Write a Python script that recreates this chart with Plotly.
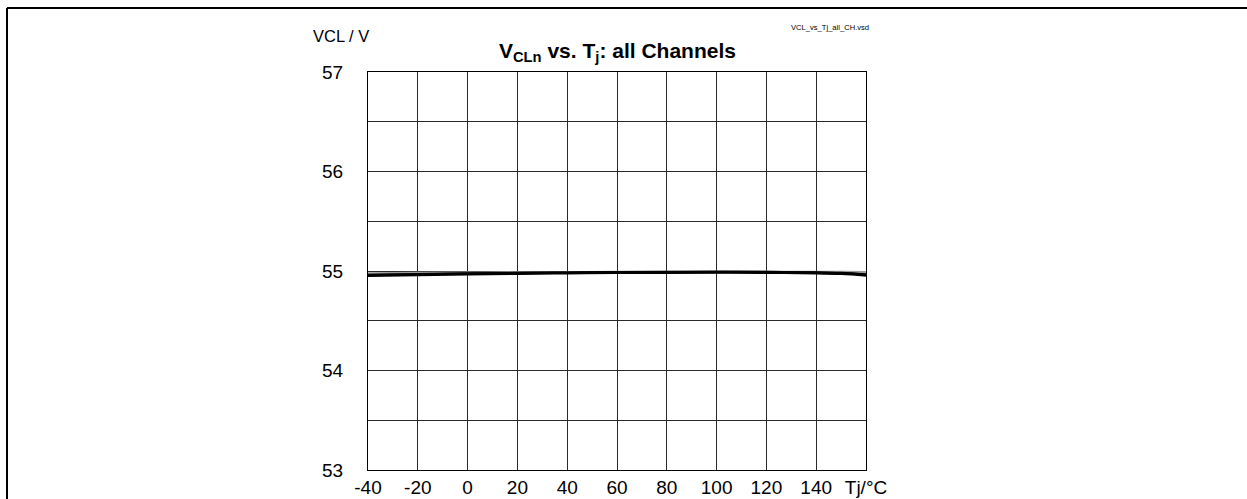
import plotly.graph_objects as go

# Junction temperature (°C)
tj = [-40, -20, 0, 20, 40, 60, 80, 100, 120, 140, 150, 160]

# Clamping voltage per channel (V)
vcl_ch0 = [54.955, 54.963, 54.970, 54.976, 54.980, 54.984, 54.986, 54.987, 54.986, 54.981, 54.974, 54.958]
vcl_ch1 = [54.960, 54.967, 54.974, 54.979, 54.983, 54.987, 54.989, 54.990, 54.989, 54.985, 54.979, 54.965]
vcl_ch2 = [54.978, 54.982, 54.985, 54.988, 54.990, 54.992, 54.993, 54.994, 54.994, 54.993, 54.992, 54.990]

x_ticks = [-40, -20, 0, 20, 40, 60, 80, 100, 120, 140, 160]
x_ticktext = ["-40", "-20", "0", "20", "40", "60", "80", "100", "120", "140", "Tj/°C"]
y_ticks = [53, 53.5, 54, 54.5, 55, 55.5, 56, 56.5, 57]
y_ticktext = ["53", "", "54", "", "55", "", "56", "", "57"]

FONT = "Liberation Sans, Arial, sans-serif"

fig = go.Figure()
fig.add_trace(go.Scatter(x=tj, y=vcl_ch2, mode="lines", line=dict(color="#9a9a9a", width=2, shape="spline"),
                         showlegend=False, hoverinfo="skip"))
fig.add_trace(go.Scatter(x=tj, y=vcl_ch0, mode="lines", line=dict(color="black", width=3, shape="spline"),
                         showlegend=False))
fig.add_trace(go.Scatter(x=tj, y=vcl_ch1, mode="lines", line=dict(color="black", width=2.5, shape="spline"),
                         showlegend=False))

L, R, T, B = 368, 866, 72, 470
W, H = 1247, 499


def px_x(p):
    return (p - L) / (R - L)


def px_y(p):
    return (B - p) / (B - T)


fig.update_layout(
    width=W, height=H,
    margin=dict(l=L, r=W - R, t=T, b=H - B, pad=0, autoexpand=False),
    paper_bgcolor="white", plot_bgcolor="white",
    font=dict(family=FONT, size=16, color="black"),
    xaxis=dict(range=[-40, 160], tickmode="array", tickvals=x_ticks, ticktext=x_ticktext,
               showgrid=True, gridcolor="#2a2a2a", gridwidth=1, zeroline=False,
               showline=True, linecolor="black", linewidth=1, mirror=True, automargin=False,
               ticks="", ticklabelstandoff=0, tickfont=dict(size=19)),
    yaxis=dict(range=[53, 57], tickmode="array", tickvals=y_ticks, ticktext=y_ticktext,
               showgrid=True, gridcolor="#2a2a2a", gridwidth=1, zeroline=False,
               showline=True, linecolor="black", linewidth=1, mirror=True, automargin=False,
               ticks="", ticklabelstandoff=20, tickfont=dict(size=19)),
    shapes=[
        dict(type="line", xref="paper", yref="paper", x0=px_x(7), x1=px_x(1247), y0=px_y(8), y1=px_y(8),
             line=dict(color="black", width=2)),
        dict(type="line", xref="paper", yref="paper", x0=px_x(7), x1=px_x(7), y0=px_y(8), y1=px_y(499),
             line=dict(color="black", width=2)),
    ],
    annotations=[
        dict(text="<b>V<sub>CLn</sub> vs. T<sub>j</sub>: all Channels</b>", xref="paper", yref="paper",
             x=px_x(617), y=px_y(67), xanchor="center", yanchor="bottom", showarrow=False,
             font=dict(size=21, family=FONT)),
        dict(text="VCL / V", xref="paper", yref="paper", x=px_x(311), y=px_y(36),
             xanchor="left", yanchor="middle", showarrow=False, font=dict(size=16.5, family=FONT)),
        dict(text="VCL_vs_Tj_all_CH.vsd", xref="paper", yref="paper", x=px_x(871), y=px_y(28),
             xanchor="right", yanchor="middle", showarrow=False, font=dict(size=7.6, family=FONT)),
    ],
)

fig.write_html("out.html")
